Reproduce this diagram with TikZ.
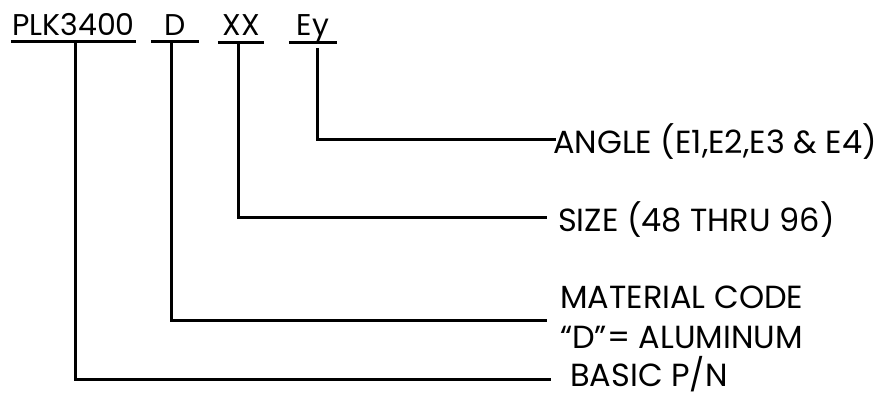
\documentclass[tikz,border=0pt]{standalone}
\usepackage{fontspec}
\setmainfont{Poppins}
\usetikzlibrary{positioning}

\begin{document}
\begin{tikzpicture}[
    x=1pt, y=-1pt,
    code/.style={anchor=base, inner sep=0pt, minimum width=#1,
                 font=\fontsize{30}{32}\selectfont},
    desc/.style={anchor=base west, inner sep=0pt, align=left,
                 font=\fontsize{32}{40}\selectfont},
    bar/.style={line width=3pt},
    lead/.style={line width=3pt},
  ]
  \useasboundingbox (0,0) rectangle (888,396);

  % Part number fields
  \node[code=125pt] (plk) at (73.5,36) {PLK3400};
  \node[code=48pt]  (mat) at (175,36)  {D};
  \node[code=46pt]  (siz) at (241,36)  {XX};
  \node[code=48pt]  (ang) at (313,36)  {Ey};

  \foreach \f/\d in {plk/6, mat/6, siz/7, ang/7}
    \draw[bar] ([yshift=-\d pt]\f.base west) -- ([yshift=-\d pt]\f.base east);

  % Descriptions
  \node[desc] (angT) at (553,153) {ANGLE (E1,E2,E3 \& E4)};
  \node[desc] (sizT) at (558,231) {SIZE (48 THRU 96)};
  \node[desc] (matT) at (560,348) {MATERIAL CODE\\“D”= ALUMINUM};
  \node[desc] (plkT) at (570,386) {BASIC P/N};

  % Leaders
  \coordinate (plk-t) at (75,42);
  \coordinate (mat-t) at (171,42);
  \coordinate (siz-t) at (238,43);
  \coordinate (ang-t) at (317,48);

  \draw[lead] (ang-t) |- ([xshift=3pt,yshift=14pt]angT.base west);
  \draw[lead] (siz-t) |- ([xshift=-11pt,yshift=14pt]sizT.base west);
  \draw[lead] (mat-t) |- ([xshift=-13pt,yshift=28pt]matT.base west);
  \draw[lead] (plk-t) |- ([xshift=-19pt,yshift=7pt]plkT.base west);
\end{tikzpicture}
\end{document}
